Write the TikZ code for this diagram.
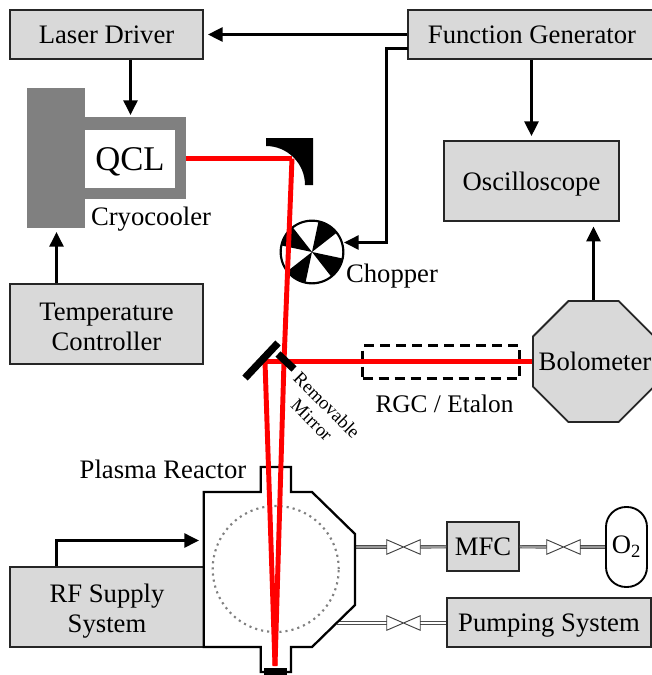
\documentclass[tikz,border=0pt]{standalone}
\usepackage{fontspec}
\usetikzlibrary{arrows.meta,shapes.geometric}
\setmainfont{Liberation Serif}

\tikzset{
    every node/.style={font=\fontsize{20}{22.5}\selectfont,align=center},
    box/.style={draw=black!85,line width=1.4pt,fill=black!15,inner sep=0pt},
    oneline/.style={text depth=0pt},
    cryo/.style={fill=black!50,inner sep=0pt},
    sigline/.style={line width=1.9pt,-{Triangle[length=11pt,width=10.5pt]},black},
    beam/.style={red,line width=3.7pt},
    mirror/.style={black,line width=5.5pt},
    pipe/.style={draw=black!70,line width=.5pt,double=black!40,double distance=1.5pt},
    valve/.style={minimum width=24.75pt,minimum height=10.5pt,inner sep=0pt,fill=white},
}

\begin{document}
\begin{tikzpicture}[x=0.75pt,y=-0.75pt]
    \useasboundingbox (0,0) rectangle (652,675);

    % Nodes for the instruments
    \node[box,oneline,minimum width=144.75pt,minimum height=36.75pt] (laser) at (106.5,34.5) {Laser Driver};
    \node[box,oneline,minimum width=186pt,minimum height=36.75pt] (fungen) at (532,34.5) {Function Generator};
    \node[box,oneline,minimum width=131.25pt,minimum height=60pt] (scope) at (531.5,181) {Oscilloscope};
    \node[box,minimum width=144.75pt,minimum height=60pt] (temp) at (106.5,324) {\rule{0pt}{17pt}Temperature\\Controller};
    \node[box,oneline,minimum width=145.5pt,minimum height=60pt] (rf) at (107,607) {\rule{0pt}{15pt}RF Supply\\System};
    \node[box,oneline,minimum width=54pt,minimum height=36.75pt] (mfc) at (483,546.5) {MFC};
    \node[box,oneline,minimum width=153pt,minimum height=36.75pt] (pump) at (549,622.5) {Pumping System};
    \node[box,regular polygon,regular polygon sides=8,minimum size=98.25pt] (bolo) at (593.5,361.5) {};
    \node[oneline] (bololabel) at (595,361.5) {Bolometer};
    \node[draw=black,line width=1.4pt,rounded corners=15pt,minimum width=30.75pt,minimum height=60pt,inner sep=0pt] (gas) at (626.5,547) {O\textsubscript{2}};

    % Nodes for the laser head
    \node[cryo,minimum width=43.5pt,minimum height=105pt] (coldhead) at (56,158) {};
    \node[cryo,minimum width=75.75pt,minimum height=61.5pt] (housing) at (135.5,158) {};
    \node[fill=white,oneline,minimum width=67.5pt,minimum height=43.5pt,inner sep=0pt,font=\fontsize{26}{30}\selectfont] (qcl) at (130,159) {QCL};
    \node (cryolabel) at (151,219) {Cryocooler};

    % Parabolic mirror and chopper
    \fill[black] (266,138) -- (313,138) -- (313,185) -- (305,185) .. controls (305,163.5) and (287.5,146) .. (266,146) -- cycle;
    \node[circle,draw=black,line width=1.6pt,minimum size=47pt,inner sep=0pt] (chopper) at (312,252) {};
    \foreach \a in {38,128,-142,-52} {
        \fill[black] (chopper.center) -- ++(\a:23.5pt) arc[start angle=\a,end angle=\a+40,radius=23.5pt] -- cycle;
    }
    \node (chopperlabel) at (392,276.5) {Chopper};

    % Etalon box and labels
    \node[draw=black,dash pattern=on 7.5pt off 4.5pt,line width=1.7pt,minimum width=117.75pt,minimum height=24.75pt] (rgc) at (441,362) {};
    \node[font=\fontsize{19}{22}\selectfont] (rgclabel) at (444.5,404) {RGC / Etalon};
    \node (reactorlabel) at (163,469) {Plasma Reactor};
    \node[rotate=-45,font=\fontsize{14}{16}\selectfont] (mirrorlabel) at (319.5,412.5) {Removable\\Mirror};

    % Gas lines
    \coordinate (port1) at (355,547);
    \coordinate (port2) at (337,623);
    \node[valve] (valve1) at (403.5,547) {};
    \node[valve] (valve2) at (563.5,547) {};
    \node[valve] (valve3) at (403.5,623) {};
    \draw[pipe] (port1) -- (valve1);
    \draw[pipe] (valve1) -- (mfc);
    \draw[pipe] (mfc) -- (valve2);
    \draw[pipe] (valve2) -- (gas);
    \draw[pipe,double=white] (port2) -- (valve3);
    \draw[pipe,double=white] (valve3) -- (pump.west |- valve3);
    \foreach \v in {valve1,valve2,valve3} {
        \draw[black!75,line width=.7pt] (\v.north west) -- (\v.south east) -- (\v.north east) -- (\v.south west) -- cycle;
    }

    % Reactor vessel
    \draw[black,line width=1.7pt] (203.7,492) -- (260.7,492) -- (260.7,467) -- (291,467) -- (291,492) -- (312,492)
        -- (355,534) -- (355,605) -- (312,647) -- (291,647) -- (291,672) -- (260.7,672) -- (260.7,647) -- (203.7,647) -- cycle;
    \node[circle,draw=black!50,line width=1.6pt,dash pattern=on 1.6pt off 3pt,minimum size=94.5pt,inner sep=0pt] (plasma) at (275.7,569) {};

    % Laser beam
    \coordinate (parab) at (292,158.5);
    \coordinate (split) at (284,361.5);
    \coordinate (fold) at (265,361.5);
    \coordinate (floor) at (275,666);
    \draw[beam] (housing.east |- parab) -- (parab);
    \draw[beam] (parab) -- (split);
    \draw[beam] (fold) -- (bolo.west |- fold);
    \draw[beam] (fold) -- (floor);
    \draw[beam] (split) -- (floor);

    % Mirrors in the beam
    \draw[mirror] (245,378) -- (278,343);
    \draw[mirror] (278,354) -- (294,369);
    \fill[black] (264,668) rectangle (287,675);

    % Signal connections
    \coordinate (fgout) at (408,48.5);
    \coordinate (fgturn) at (386.5,48.5);
    \coordinate (chopin) at (386.5,242.5);
    \coordinate (chopend) at (344,242.5);
    \coordinate (rfturn) at (56.5,540.5);
    \coordinate (rfend) at (199,540.5);
    \coordinate (cryoin) at (56.5,228);
    \coordinate (qclin) at (130.5,117);
    \draw[sigline,shorten >=3pt] (fungen.west) -- (laser.east |- fungen.west);
    \draw[sigline] (fgout) -- (fgturn) -- (chopin) -- (chopend);
    \draw[sigline,shorten >=3pt] (fungen.south -| scope.north) -- (scope.north);
    \draw[sigline,shorten >=3.5pt] (bolo.north) -- (bolo.north |- scope.south);
    \draw[sigline,shorten >=1.5pt] (qclin |- laser.south) -- (qclin);
    \draw[sigline,shorten >=3pt] (cryoin |- temp.north) -- (cryoin);
    \draw[sigline] (rfturn |- rf.north) -- (rfturn) -- (rfend);
\end{tikzpicture}
\end{document}
